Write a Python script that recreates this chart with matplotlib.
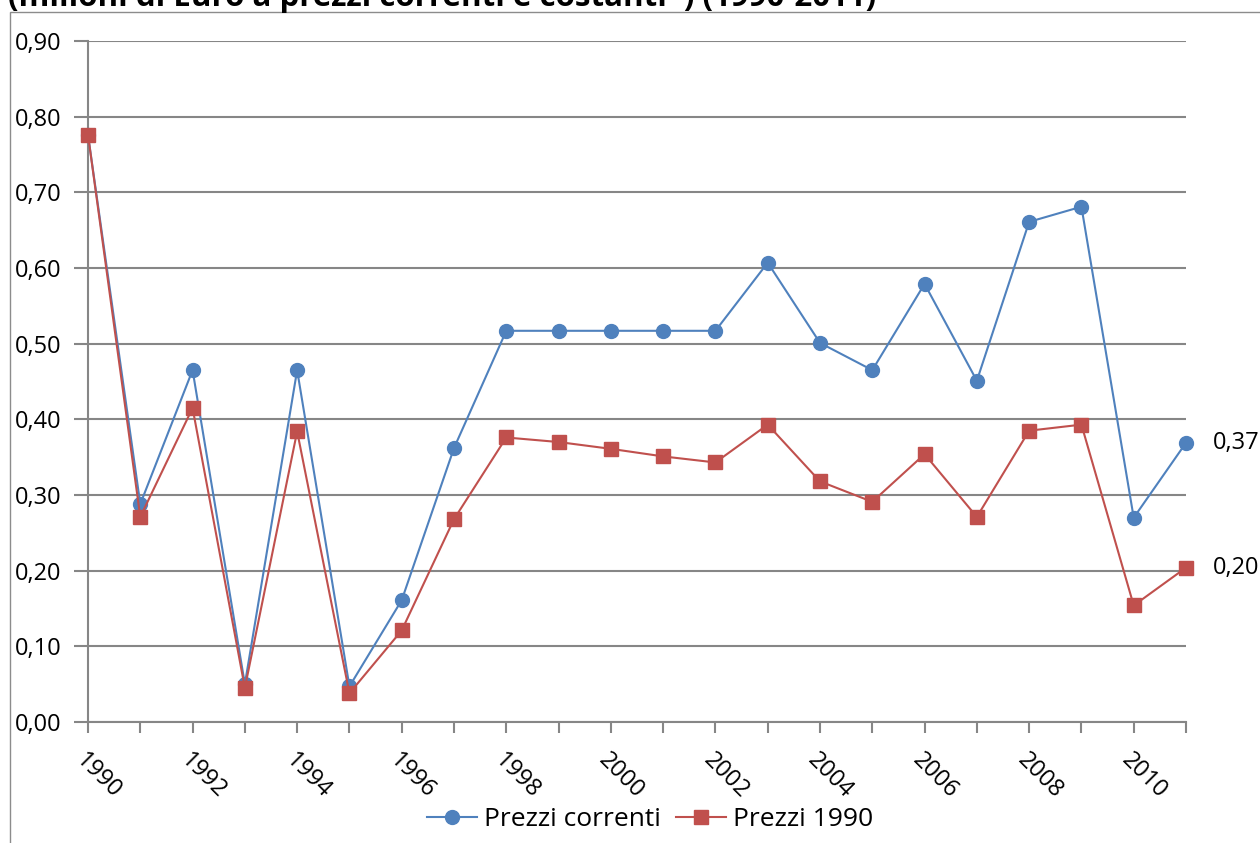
import matplotlib
matplotlib.use("Agg")
import matplotlib.pyplot as plt
from matplotlib.patches import Rectangle
from matplotlib.lines import Line2D

plt.rcParams['font.family'] = ['Open Sans', 'DejaVu Sans']

years = list(range(1990, 2012))
correnti = [0.776, 0.288, 0.465, 0.050, 0.465, 0.047, 0.161, 0.362, 0.517, 0.517, 0.517,
            0.517, 0.517, 0.607, 0.501, 0.465, 0.579, 0.451, 0.661, 0.681, 0.270, 0.369]
prezzi_1990 = [0.776, 0.271, 0.415, 0.045, 0.384, 0.038, 0.121, 0.268, 0.376, 0.370, 0.361,
               0.351, 0.343, 0.393, 0.318, 0.291, 0.354, 0.271, 0.385, 0.393, 0.154, 0.204]
yticks = [0.0, 0.1, 0.2, 0.3, 0.4, 0.5, 0.6, 0.7, 0.8, 0.9]
title = "(milioni di Euro a prezzi correnti e costanti*) (1990-2011)"

blue = "#4F81BD"
red = "#C0504D"
grey = "#868686"

fig = plt.figure(figsize=(12.6, 8.43), dpi=100)
ax = fig.add_axes([88 / 1260, 1 - 722 / 843, 1098 / 1260, 681 / 843])

# chart frame and title, cut at the top edge like the original
fig.patches.append(Rectangle((10 / 1260, -0.02), 1.1, 1 - 12 / 843 + 0.02,
                             transform=fig.transFigure, fill=False,
                             edgecolor="#8c8c8c", linewidth=1))
fig.text(8 / 1260, 1 - 6 / 843, title, fontsize=22.5, fontweight="bold",
         ha="left", va="baseline")

ax.plot(years, correnti, color=blue, lw=1.5, marker="o", markersize=10,
        label="Prezzi correnti", clip_on=False, zorder=3)
ax.plot(years, prezzi_1990, color=red, lw=1.5, marker="s", markersize=9.5,
        label="Prezzi 1990", clip_on=False, zorder=4)

for series in (correnti, prezzi_1990):
    ax.annotate(f"{series[-1]:.2f}".replace(".", ","), (years[-1], series[-1]),
                xytext=(19, 0), textcoords="offset points", fontsize=17,
                va="center", ha="left")

ax.set_xlim(1990, 2011)
ax.set_ylim(0, 0.9)
ax.set_yticks(yticks)
ax.set_yticklabels([f"{v:.2f}".replace(".", ",") for v in yticks], fontsize=17)
ax.set_xticks(years)
ax.set_xticklabels([str(y) if y % 2 == 0 else "" for y in years], fontsize=17,
                   rotation=-45, ha="left", va="top", rotation_mode="anchor")
ax.tick_params(axis="y", length=10, width=1.5, color=grey, pad=9)
ax.tick_params(axis="x", length=8, width=1.5, color=grey, pad=11)

ax.grid(axis="y", color=grey, lw=1.5)
ax.set_axisbelow(True)
for s in ("top", "right"):
    ax.spines[s].set_visible(False)
for s in ("left", "bottom"):
    ax.spines[s].set_color(grey)
    ax.spines[s].set_linewidth(1.5)

handles = [Line2D([], [], color=blue, lw=1.5, marker="o", markersize=10),
           Line2D([], [], color=red, lw=1.5, marker="s", markersize=9.5)]
fig.legend(handles, ["Prezzi correnti", "Prezzi 1990"], loc="center",
           bbox_to_anchor=(650 / 1260, 1 - 820 / 843), ncol=2, frameon=False,
           fontsize=19, handlelength=1.9, handletextpad=0.25, columnspacing=0.6)

fig.savefig("out.png", dpi=100)
